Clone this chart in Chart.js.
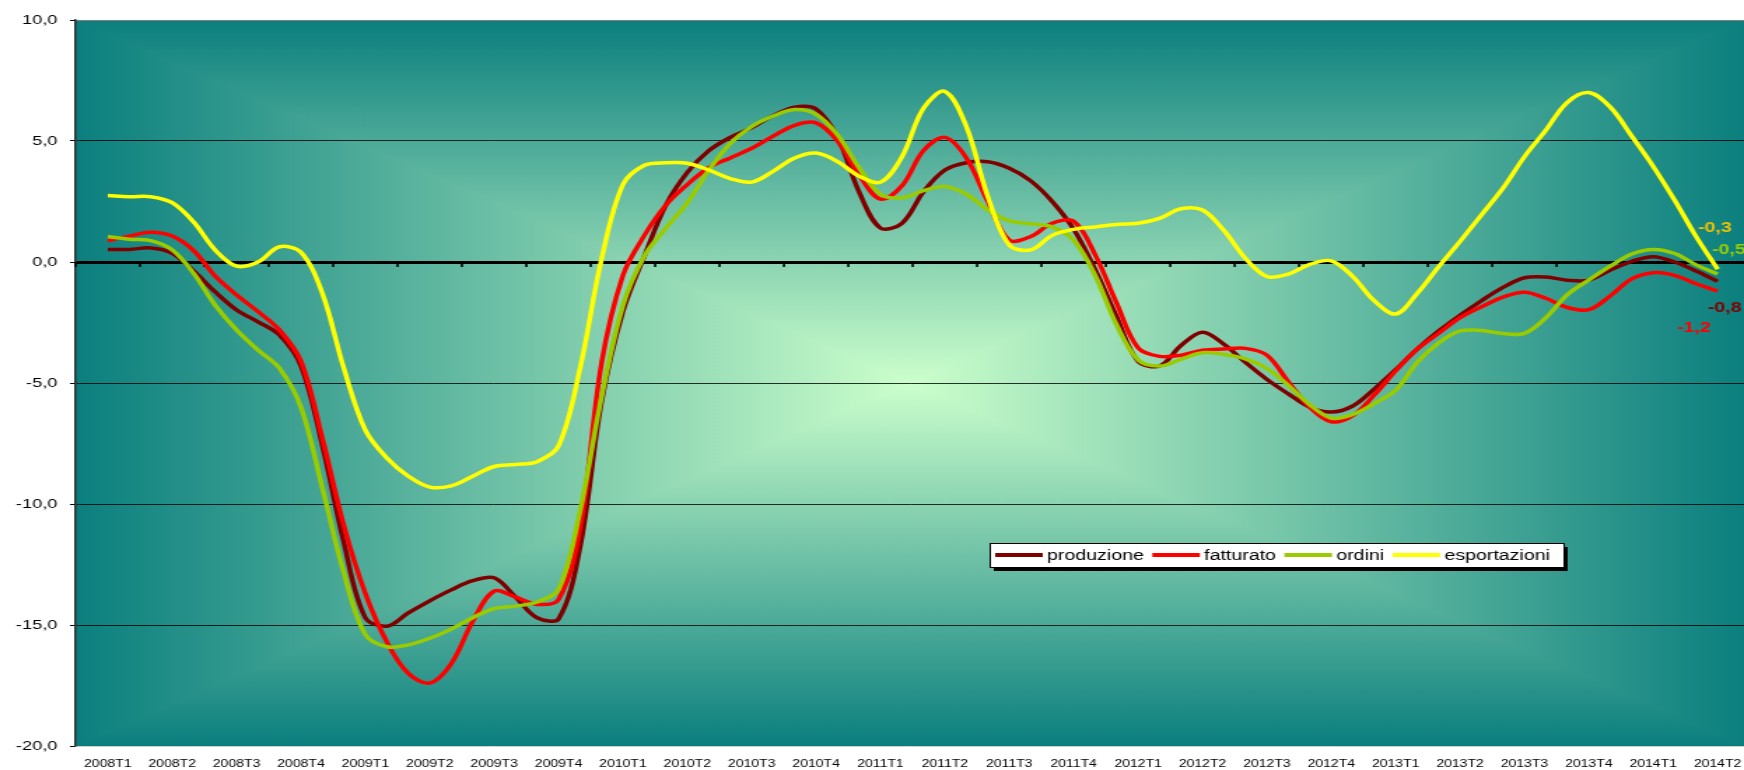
<!DOCTYPE html>
<html>
<head>
<meta charset="utf-8">
<script src="https://cdn.jsdelivr.net/npm/chart.js@4.4.1/dist/chart.umd.min.js"></script>
<style>
  html, body { margin: 0; padding: 0; background: #fff; }
  #chart { display: block; }
</style>
</head>
<body>
<!-- the original picture is a horizontally stretched Excel chart, so the canvas is drawn narrower and widened by CSS -->
<canvas id="chart" width="1246" height="770" style="width:1744px;height:770px"></canvas>
<script>
// quarters on the x axis
const quarters = ['2008T1', '2008T2', '2008T3', '2008T4', '2009T1', '2009T2', '2009T3', '2009T4',
    '2010T1', '2010T2', '2010T3', '2010T4', '2011T1', '2011T2', '2011T3', '2011T4',
    '2012T1', '2012T2', '2012T3', '2012T4', '2013T1', '2013T2', '2013T3', '2013T4',
    '2014T1', '2014T2'];

// monthly readings, three per quarter, from the middle of 2008T1 to the middle of 2014T2
const produzione = [
    0.52, 0.52, 0.58, 0.36, -0.37, -1.23, -1.98, -2.47, -3.02, -4.3, -7.6, -11.6,
    -14.7, -15.05, -14.5, -14.0, -13.55, -13.17, -13.05, -13.85, -14.7, -14.75, -11.8, -5.8,
    -2.05, 0.25, 2.35, 3.7, 4.6, 5.15, 5.55, 6.05, 6.4, 6.32, 5.15, 2.9,
    1.4, 1.6, 2.9, 3.8, 4.1, 4.14, 3.87, 3.35, 2.5, 1.35, -0.3, -2.25,
    -4.1, -4.3, -3.45, -2.9, -3.4, -4.15, -4.85, -5.45, -6.0, -6.2, -5.95, -5.25,
    -4.45, -3.6, -2.85, -2.2, -1.6, -1.05, -0.65, -0.62, -0.75, -0.75, -0.33, 0.03,
    0.22, 0.0, -0.37, -0.8
];
const fatturato = [
    0.88, 1.07, 1.23, 1.07, 0.47, -0.58, -1.36, -2.05, -2.81, -4.1, -7.3, -10.9,
    -13.7, -15.7, -17.0, -17.4, -16.6, -14.85, -13.6, -13.85, -14.15, -13.95, -11.0, -4.2,
    -0.55, 1.1, 2.35, 3.2, 3.9, 4.3, 4.7, 5.2, 5.65, 5.75, 5.0, 3.6,
    2.6, 3.15, 4.6, 5.15, 4.3, 2.5, 0.9, 1.05, 1.6, 1.68, 0.3, -1.7,
    -3.55, -3.9, -3.85, -3.65, -3.6, -3.57, -3.85, -4.95, -6.0, -6.6, -6.35, -5.5,
    -4.5, -3.6, -2.95, -2.3, -1.85, -1.45, -1.25, -1.5, -1.88, -1.97, -1.4, -0.7,
    -0.44, -0.55, -0.9, -1.2
];
const ordini = [
    1.05, 0.94, 0.88, 0.5, -0.47, -1.78, -2.81, -3.64, -4.39, -6.0, -9.35, -12.85,
    -15.4, -15.9, -15.82, -15.55, -15.17, -14.7, -14.32, -14.22, -14.05, -13.54, -10.3, -5.6,
    -1.8, 0.25, 1.4, 2.45, 3.8, 4.9, 5.6, 6.03, 6.3, 6.1, 5.25, 3.9,
    2.8, 2.65, 2.95, 3.12, 2.8, 2.15, 1.7, 1.58, 1.45, 0.9, -0.55, -2.6,
    -4.05, -4.3, -4.02, -3.75, -3.82, -4.0, -4.4, -5.1, -5.9, -6.45, -6.3, -5.85,
    -5.3, -4.15, -3.35, -2.85, -2.83, -2.95, -2.95, -2.3, -1.35, -0.74, -0.17, 0.33,
    0.52, 0.35, -0.12, -0.5
];
const esportazioni = [
    2.75, 2.7, 2.7, 2.45, 1.65, 0.5, -0.17, 0.0, 0.63, 0.4, -1.3, -4.4,
    -6.95, -8.1, -8.85, -9.3, -9.25, -8.85, -8.45, -8.37, -8.25, -7.6, -4.4, 0.1,
    3.2, 4.0, 4.1, 4.08, 3.8, 3.45, 3.3, 3.75, 4.3, 4.5, 4.15, 3.55,
    3.3, 4.35, 6.35, 7.05, 5.6, 2.7, 0.7, 0.5, 1.1, 1.35, 1.45, 1.55,
    1.6, 1.8, 2.2, 2.15, 1.3, 0.15, -0.6, -0.5, -0.1, 0.05, -0.6, -1.6,
    -2.15, -1.3, -0.2, 0.85, 1.95, 3.05, 4.35, 5.45, 6.6, 7.0, 6.4, 5.2,
    3.95, 2.55, 1.05, -0.3
];

// x position of each monthly reading, in quarters
const monthPos = produzione.map((_, i) => i / 3);

const FONT = '"Liberation Sans", Arial, sans-serif';
const fmt = v => v.toFixed(1).replace('.', ',');

// rectangular "from centre" gradient behind the plot, teal at the edges, light green in the middle
const plotBackground = {
    id: 'plotBackground',
    beforeDraw(chart) {
        const { ctx, chartArea: a } = chart;
        const cx = (a.left + a.right) / 2;
        const cy = (a.top + a.bottom) / 2;
        const edge = '#0b7f7e';
        const mid = '#ccffcc';
        const tri = (p1, p2, gx, gy) => {
            const g = ctx.createLinearGradient(gx, gy, cx, cy);
            g.addColorStop(0, edge);
            g.addColorStop(1, mid);
            ctx.fillStyle = g;
            ctx.strokeStyle = g;
            ctx.lineWidth = 1.5;
            ctx.beginPath();
            ctx.moveTo(p1[0], p1[1]);
            ctx.lineTo(p2[0], p2[1]);
            ctx.lineTo(cx, cy);
            ctx.closePath();
            ctx.fill();
            ctx.stroke(); // covers the pale anti-aliased seams between triangles
        };
        ctx.save();
        ctx.beginPath();
        ctx.rect(a.left, a.top, a.right - a.left, a.bottom - a.top);
        ctx.clip();
        tri([a.left, a.top], [a.right, a.top], cx, a.top);
        tri([a.left, a.bottom], [a.right, a.bottom], cx, a.bottom);
        tri([a.left, a.top], [a.left, a.bottom], a.left, cy);
        tri([a.right, a.top], [a.right, a.bottom], a.right, cy);
        ctx.restore();
    }
};

// small tick marks hanging under the zero line, between the quarters
const zeroTicks = {
    id: 'zeroTicks',
    beforeDatasetsDraw(chart) {
        const { ctx, scales: { x, y } } = chart;
        const y0 = y.getPixelForValue(0);
        ctx.save();
        ctx.strokeStyle = '#000';
        ctx.lineWidth = 1.6;
        for (let b = 0; b <= quarters.length; b++) {
            const v = b - 0.5;
            if (v > x.max) break;
            const px = x.getPixelForValue(v);
            ctx.beginPath();
            ctx.moveTo(px, y0);
            ctx.lineTo(px, y0 + 5);
            ctx.stroke();
        }
        ctx.restore();
    }
};

// value of the last point of every series
const labelOffsets = [
    { dx: -7, dy: 27 },   // produzione
    { dx: -29, dy: 37 },  // fatturato
    { dx: -4, dy: -24 },  // ordini
    { dx: -14, dy: -41 }  // esportazioni
];
const labelColors = ['#800000', '#ff0000', '#99cc00', '#f0c000'];
const endLabels = {
    id: 'endLabels',
    afterDatasetsDraw(chart) {
        const { ctx } = chart;
        ctx.save();
        ctx.font = 'bold 14px ' + FONT;
        ctx.textAlign = 'left';
        ctx.textBaseline = 'middle';
        chart.data.datasets.forEach((ds, i) => {
            const pts = chart.getDatasetMeta(i).data;
            const p = pts[pts.length - 1];
            ctx.fillStyle = labelColors[i];
            ctx.fillText(fmt(ds.data[ds.data.length - 1]), p.x + labelOffsets[i].dx, p.y + labelOffsets[i].dy);
        });
        ctx.restore();
    }
};

// boxed legend with a black shadow, sitting inside the plot
const boxLegend = {
    id: 'boxLegend',
    afterDraw(chart) {
        const { ctx } = chart;
        const box = { left: 707, top: 543, width: 410, height: 24 };
        ctx.save();
        ctx.fillStyle = '#000';
        ctx.fillRect(box.left + 3, box.top + 4, box.width, box.height);
        ctx.fillStyle = '#fff';
        ctx.fillRect(box.left, box.top, box.width, box.height);
        ctx.strokeStyle = '#000';
        ctx.lineWidth = 1;
        ctx.strokeRect(box.left + 0.5, box.top + 0.5, box.width, box.height);

        ctx.font = '14px ' + FONT;
        ctx.textBaseline = 'middle';
        const cy = box.top + box.height / 2;
        let x = box.left + 4;
        chart.data.datasets.forEach(ds => {
            ctx.strokeStyle = ds.borderColor;
            ctx.lineWidth = 4;
            ctx.beginPath();
            ctx.moveTo(x, cy);
            ctx.lineTo(x + 34, cy);
            ctx.stroke();
            x += 37;
            ctx.fillStyle = '#000';
            ctx.fillText(ds.label, x, cy + 1);
            x += ctx.measureText(ds.label).width + 6;
        });
        ctx.restore();
    }
};

const makeSeries = (label, values, color, order) => ({
    label: label,
    data: values,
    borderColor: color,
    backgroundColor: color,
    borderWidth: 3.5,
    pointRadius: 0,
    tension: 0.35,
    fill: false,
    order: order
});

new Chart(document.getElementById('chart'), {
    type: 'line',
    data: {
        labels: monthPos,
        datasets: [
            makeSeries('produzione', produzione, '#800000', 4),
            makeSeries('fatturato', fatturato, '#ff0000', 3),
            makeSeries('ordini', ordini, '#99cc00', 2),
            makeSeries('esportazioni', esportazioni, '#ffff00', 1)
        ]
    },
    options: {
        responsive: false,
        animation: false,
        devicePixelRatio: 1,
        layout: { padding: { top: 20, right: 0, bottom: 0, left: 0 } },
        plugins: {
            legend: { display: false },
            tooltip: { enabled: false }
        },
        scales: {
            x: {
                type: 'linear',
                min: -0.5,
                max: 25.41,
                afterBuildTicks: scale => {
                    scale.ticks = quarters.map((_, i) => ({ value: i }));
                },
                afterFit: scale => {
                    scale.height = 24;
                    scale.paddingLeft = 0;
                    scale.paddingRight = 0;
                },
                grid: { display: false, drawTicks: false },
                border: { display: false },
                ticks: {
                    autoSkip: false,
                    maxRotation: 0,
                    padding: 12,
                    color: '#000',
                    font: { family: FONT, size: 10 },
                    callback: (v, i) => quarters[i]
                }
            },
            y: {
                min: -20,
                max: 10,
                afterFit: scale => { scale.width = 54; },
                grid: {
                    color: c => c.tick.value === 0 ? '#000' : c.tick.value === 10 ? '#808080'
                        : c.tick.value === -20 ? '#d0d0d0' : 'rgba(0,0,0,0.8)',
                    lineWidth: c => c.tick.value === 0 ? 3 : 1,
                    tickColor: '#000',
                    tickWidth: 1,
                    tickLength: 4
                },
                border: { display: true, color: '#303030', width: 1.5 },
                ticks: {
                    stepSize: 5,
                    padding: 9,
                    color: '#000',
                    font: { family: FONT, size: 13 },
                    callback: v => fmt(v)
                }
            }
        }
    },
    plugins: [plotBackground, zeroTicks, endLabels, boxLegend]
});
</script>
</body>
</html>
